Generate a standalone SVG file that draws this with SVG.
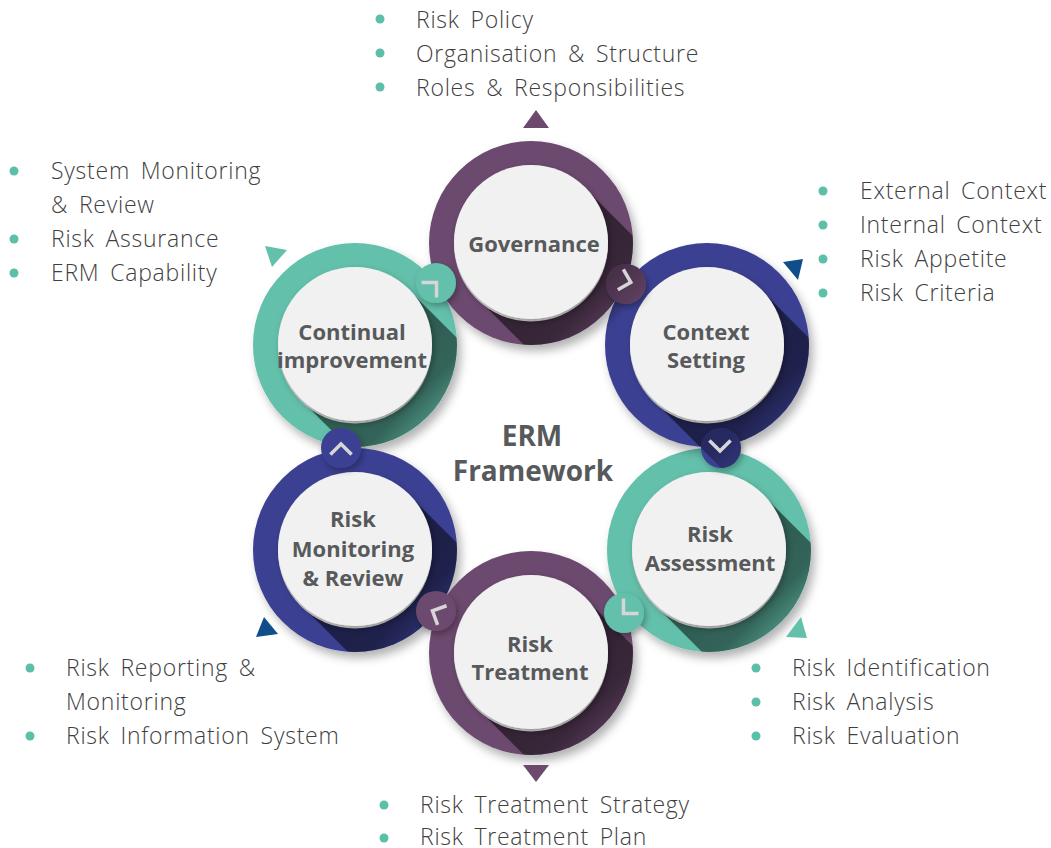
<svg xmlns="http://www.w3.org/2000/svg" xmlns:xlink="http://www.w3.org/1999/xlink" width="1051" height="848" viewBox="0 0 1051 848">
<style>
.lbl{font-family:"Open Sans","Liberation Sans",sans-serif;font-weight:700;font-size:22px;fill:#58595B;text-anchor:middle}
.ctr{font-family:"Open Sans","Liberation Sans",sans-serif;font-weight:700;font-size:28px;fill:#58595B;text-anchor:middle}
.li{font-family:"Open Sans","Liberation Sans",sans-serif;font-weight:300;font-size:23px;fill:#3F3F3F;letter-spacing:0.75px;word-spacing:4px}
.dot{fill:#5CBFA7}
.purple{fill:#6C4A6E}
.navy{fill:#3A4192}
.teal{fill:#63C0AB}
.blue{fill:#0F4E8A}
.face{fill:#F1F1F1}
.lip{fill:#D3D3D3}
.chev{fill:none;stroke:#D6D6D6;stroke-width:3.5;stroke-linejoin:miter}
</style>
<defs>
<filter id="ds" x="-30%" y="-30%" width="170%" height="170%">
<feDropShadow dx="4" dy="6" stdDeviation="5" flood-color="#000" flood-opacity="0.3"/>
</filter>
<filter id="ds2" x="-30%" y="-30%" width="170%" height="170%">
<feDropShadow dx="2" dy="3" stdDeviation="3" flood-color="#000" flood-opacity="0.3"/>
</filter>
<linearGradient id="lsg" gradientUnits="userSpaceOnUse" x1="0" y1="0" x2="113" y2="113">
<stop offset="0" stop-color="#000" stop-opacity="0.55"/>
<stop offset="0.5" stop-color="#000" stop-opacity="0.48"/>
<stop offset="0.7" stop-color="#000" stop-opacity="0.22"/>
<stop offset="0.9" stop-color="#000" stop-opacity="0"/>
</linearGradient>
<path id="ls" d="M54.45,-54.45 L167.6,58.7 L58.7,167.6 L-54.45,54.45 Z" fill="url(#lsg)"/>
<clipPath id="ringClip"><circle cx="0" cy="0" r="102"/></clipPath>
<clipPath id="bumpGC"><circle cx="95" cy="41" r="20"/></clipPath>
<clipPath id="bumpCA"><circle cx="14" cy="103" r="20"/></clipPath>
</defs>

<g id="node-continual" transform="translate(355,345)">
<circle r="102" class="teal" filter="url(#ds)"/>
<g clip-path="url(#ringClip)"><use xlink:href="#ls"/></g>
<circle r="77" cy="1.5" class="lip"/>
<circle r="77" cy="-1" class="face" filter="url(#ds2)"/>
<text class="lbl" x="-3" y="-5">Continual</text>
<text class="lbl" x="-3" y="23">improvement</text>
</g>

<g id="node-monitoring" transform="translate(355,550)">
<circle r="102" class="navy" filter="url(#ds)"/>
<g clip-path="url(#ringClip)"><use xlink:href="#ls"/></g>
<circle r="77" cy="1.5" class="lip"/>
<circle r="77" cy="-1" class="face" filter="url(#ds2)"/>
<text class="lbl" x="-2" y="-23">Risk</text>
<text class="lbl" x="-2" y="7">Monitoring</text>
<text class="lbl" x="-2" y="36">&amp; Review</text>
</g>

<g id="node-treatment" transform="translate(531,653)">
<circle r="102" class="purple" filter="url(#ds)"/>
<g clip-path="url(#ringClip)"><use xlink:href="#ls"/></g>
<circle r="77" cy="1.5" class="lip"/>
<circle r="77" cy="-1" class="face" filter="url(#ds2)"/>
<text class="lbl" x="-1" y="-1">Risk</text>
<text class="lbl" x="-1" y="27">Treatment</text>
</g>

<g id="node-assessment" transform="translate(709,550)">
<circle r="102" class="teal" filter="url(#ds)"/>
<g clip-path="url(#ringClip)"><use xlink:href="#ls"/></g>
<circle r="77" cy="1.5" class="lip"/>
<circle r="77" cy="-1" class="face" filter="url(#ds2)"/>
<text class="lbl" x="1" y="-8">Risk</text>
<text class="lbl" x="1" y="21">Assessment</text>
</g>

<g id="node-context" transform="translate(707,345)">
<circle r="102" class="navy" filter="url(#ds)"/>
<g clip-path="url(#ringClip)"><use xlink:href="#ls"/></g>
<circle r="77" cy="1.5" class="lip"/>
<circle r="77" cy="-1" class="face" filter="url(#ds2)"/>
<text class="lbl" x="-1" y="-5">Context</text>
<text class="lbl" x="-1" y="23">Setting</text>
</g>

<g id="node-governance" transform="translate(531,243)">
<circle r="102" class="purple" filter="url(#ds)"/>
<g clip-path="url(#ringClip)"><use xlink:href="#ls"/></g>
<circle r="77" cy="1.5" class="lip"/>
<circle r="77" cy="-1" class="face" filter="url(#ds2)"/>
<text class="lbl" x="3" y="9">Governance</text>
</g>

<g id="connectors">
<circle cx="436" cy="283" r="20" class="teal" filter="url(#ds2)"/>
<circle cx="626" cy="284" r="20" class="purple" filter="url(#ds2)"/>
<g transform="translate(531,243)" opacity="0.7"><g clip-path="url(#bumpGC)"><use xlink:href="#ls"/></g></g>
<circle cx="721" cy="448" r="20" class="navy" filter="url(#ds2)"/>
<g transform="translate(707,345)" opacity="0.7"><g clip-path="url(#bumpCA)"><use xlink:href="#ls"/></g></g>
<circle cx="624" cy="613" r="20" class="teal" filter="url(#ds2)"/>
<circle cx="436" cy="611" r="20" class="purple" filter="url(#ds2)"/>
<circle cx="341" cy="448" r="20" class="navy" filter="url(#ds2)"/>
<polyline class="chev" points="-5.6,-10.6 5,0 -5.6,10.6" transform="translate(433,286) rotate(-45)"/>
<polyline class="chev" points="-5.6,-10.6 5,0 -5.6,10.6" transform="translate(626,281) rotate(15)"/>
<polyline class="chev" points="-5.6,-10.6 5,0 -5.6,10.6" transform="translate(720,446) rotate(90)"/>
<polyline class="chev" points="-5.6,-10.6 5,0 -5.6,10.6" transform="translate(627,610) rotate(135)"/>
<polyline class="chev" points="-5.6,-10.6 5,0 -5.6,10.6" transform="translate(437,613) rotate(205)"/>
<polyline class="chev" points="-5.6,-10.6 5,0 -5.6,10.6" transform="translate(341,449) rotate(270)"/>
</g>

<g id="center-title">
<text class="ctr" x="532" y="446">ERM</text>
<text class="ctr" x="533" y="481">Framework</text>
</g>

<g id="pointers">
<polygon class="purple" points="523,128 549,128 536,110"/>
<polygon class="blue" points="783,262 803,259 798,280"/>
<polygon class="teal" points="786,637 807,638 801,617"/>
<polygon class="purple" points="523,765 549,765 536,782"/>
<polygon class="blue" points="256,637 278,634 264,617"/>
<polygon class="teal" points="265,246 287,250 272,267"/>
</g>

<g id="list-governance">
<circle class="dot" cx="380" cy="19" r="4.5"/>
<circle class="dot" cx="380" cy="53" r="4.5"/>
<circle class="dot" cx="380" cy="87" r="4.5"/>
<text class="li" x="416" y="28">Risk Policy</text>
<text class="li" x="416" y="62">Organisation &amp; Structure</text>
<text class="li" x="416" y="96">Roles &amp; Responsibilities</text>
</g>

<g id="list-continual">
<circle class="dot" cx="14" cy="171" r="4.5"/>
<circle class="dot" cx="14" cy="239" r="4.5"/>
<circle class="dot" cx="14" cy="273" r="4.5"/>
<text class="li" x="51" y="179">System Monitoring</text>
<text class="li" x="51" y="213">&amp; Review</text>
<text class="li" x="51" y="247">Risk Assurance</text>
<text class="li" x="51" y="281">ERM Capability</text>
</g>

<g id="list-context">
<circle class="dot" cx="823" cy="191" r="4.5"/>
<circle class="dot" cx="823" cy="225" r="4.5"/>
<circle class="dot" cx="823" cy="259" r="4.5"/>
<circle class="dot" cx="823" cy="293" r="4.5"/>
<text class="li" x="860" y="199">External Context</text>
<text class="li" x="860" y="233">Internal Context</text>
<text class="li" x="860" y="267">Risk Appetite</text>
<text class="li" x="860" y="301">Risk Criteria</text>
</g>

<g id="list-assessment">
<circle class="dot" cx="756" cy="668" r="4.5"/>
<circle class="dot" cx="756" cy="702" r="4.5"/>
<circle class="dot" cx="756" cy="736" r="4.5"/>
<text class="li" x="792" y="676">Risk Identification</text>
<text class="li" x="792" y="710">Risk Analysis</text>
<text class="li" x="792" y="744">Risk Evaluation</text>
</g>

<g id="list-monitoring">
<circle class="dot" cx="30" cy="668" r="4.5"/>
<circle class="dot" cx="30" cy="736" r="4.5"/>
<text class="li" x="66" y="676">Risk Reporting &amp;</text>
<text class="li" x="66" y="710">Monitoring</text>
<text class="li" x="66" y="744">Risk Information System</text>
</g>

<g id="list-treatment">
<circle class="dot" cx="384" cy="805" r="4.5"/>
<circle class="dot" cx="384" cy="838" r="4.5"/>
<text class="li" x="420" y="813">Risk Treatment Strategy</text>
<text class="li" x="420" y="845">Risk Treatment Plan</text>
</g>
</svg>
